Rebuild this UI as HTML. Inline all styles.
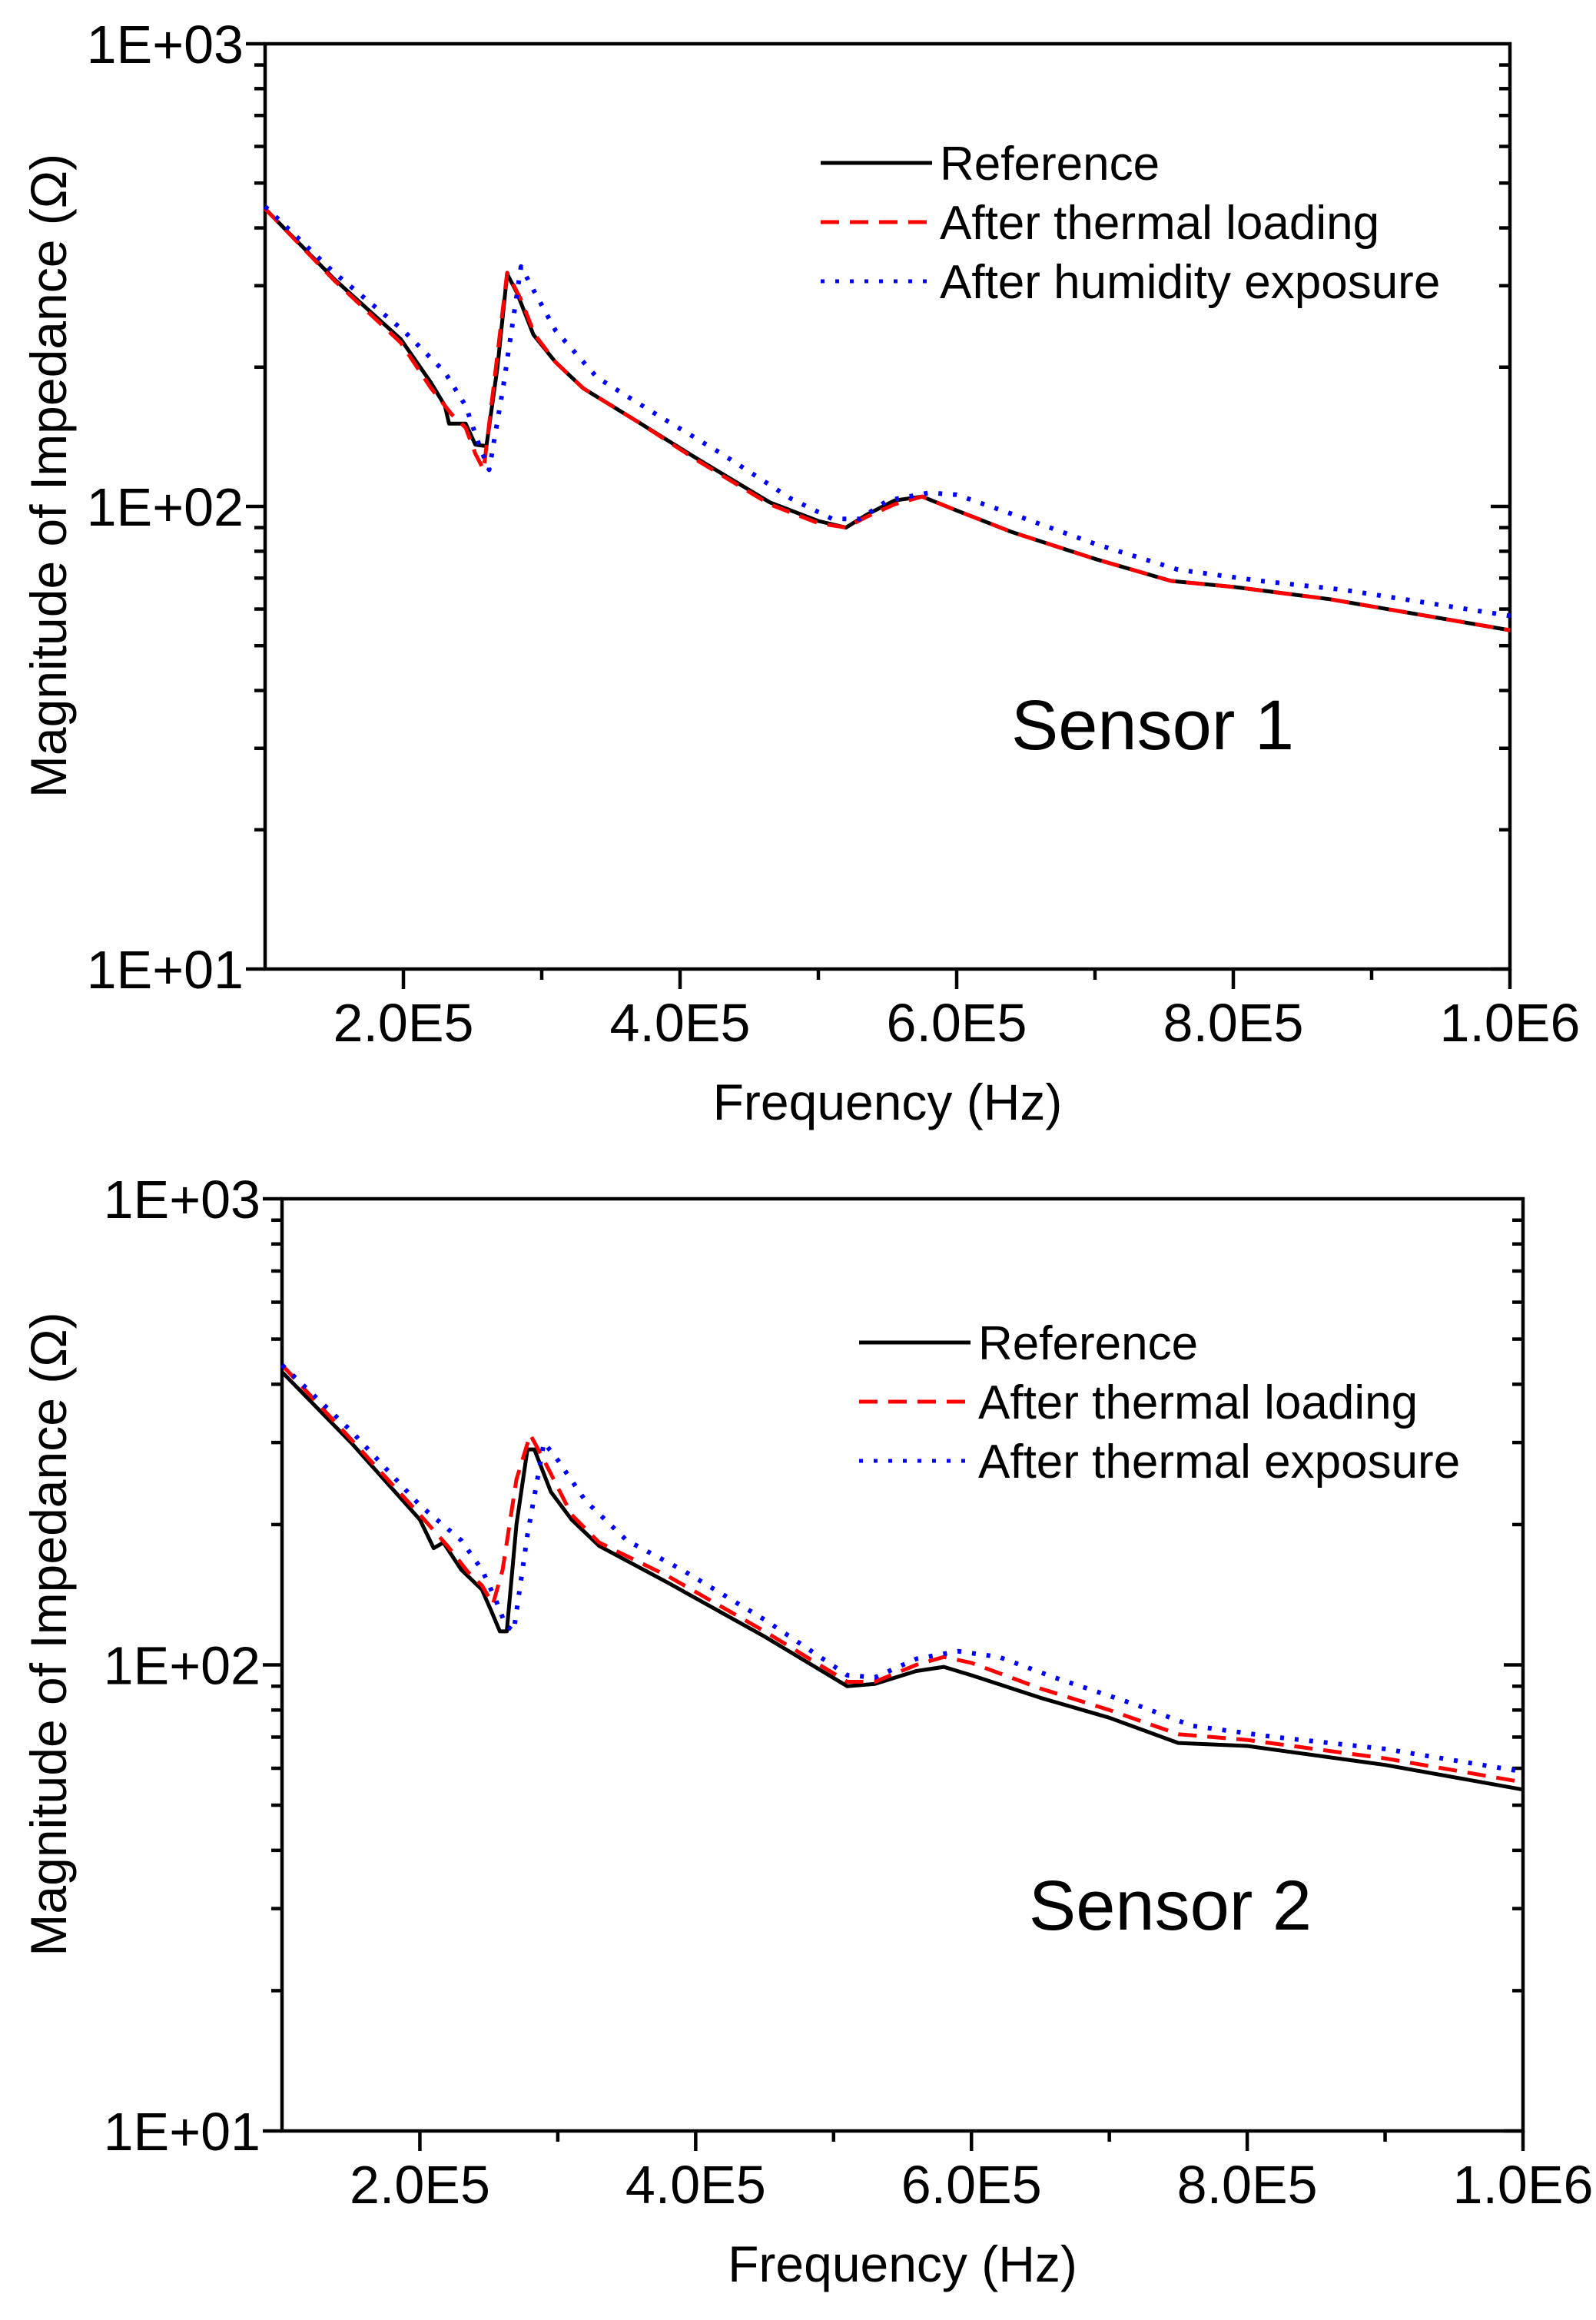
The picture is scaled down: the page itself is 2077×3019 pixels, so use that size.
<!DOCTYPE html>
<html><head><meta charset="utf-8"><style>
html,body{margin:0;padding:0;background:#fff;}
svg{display:block;}
text{font-family:"Liberation Sans",sans-serif;fill:#000;}
</style></head><body>
<svg id="s" width="2077" height="3019" viewBox="0 0 2077 3019" xmlns="http://www.w3.org/2000/svg"></svg>
<script>
var S=document.getElementById('s');var out='';
function plot(o){
 var L=o.L,R=o.R,T=o.T,B=o.B,dec=(B-T)/2;
 function X(f){return L+(f-1)/9*(R-L);}
 function Y(z){return B-(Math.log10(z)-1)*dec;}
 out+='<rect x="'+L+'" y="'+T+'" width="'+(R-L)+'" height="'+(B-T)+'" fill="none" stroke="#000" stroke-width="4.5"/>';
 out+='<line x1="'+(L-25)+'" y1="'+T+'" x2="'+L+'" y2="'+T+'" stroke="#000" stroke-width="4.5"/>';
 for(var d=1;d<3;d++){for(var m=1;m<10;m++){var y=Y(m*Math.pow(10,d));var len=m==1?25:14;
  out+='<line x1="'+(L-len)+'" y1="'+y+'" x2="'+L+'" y2="'+y+'" stroke="#000" stroke-width="4.5"/>';
  out+='<line x1="'+(R-len)+'" y1="'+y+'" x2="'+R+'" y2="'+y+'" stroke="#000" stroke-width="4.5"/>';}}
 var labs=['1E+01','1E+02','1E+03'];
 for(var i=0;i<3;i++){out+='<text x="'+(L-28)+'" y="'+(Y(Math.pow(10,i+1))+25)+'" font-size="70" text-anchor="end">'+labs[i]+'</text>';}
 for(var f=2;f<=10;f++){var x=X(f);var len=(f%2==0)?26:14;
  out+='<line x1="'+x+'" y1="'+B+'" x2="'+x+'" y2="'+(B+len)+'" stroke="#000" stroke-width="4.5"/>';
  if(f%2==0){out+='<text x="'+x+'" y="'+(B+94)+'" font-size="70" text-anchor="middle">'+(f==10?'1.0E6':(f+'.0E5'))+'</text>';}}
 out+='<text x="'+((L+R)/2)+'" y="'+(B+196)+'" font-size="66" text-anchor="middle">Frequency (Hz)</text>';
 out+='<text transform="translate(86,'+((T+B)/2-40)+') rotate(-90)" font-size="66" text-anchor="middle">Magnitude of Impedance (Ω)</text>';
 var st=[{c:'#000',d:''},{c:'#ff0000',d:'24 14'},{c:'#0000ff',d:'5 14'}];
 for(var k=0;k<3;k++){var p=o.data[k];var pts=[];
  for(var j=0;j<p.length;j++){pts.push(X(p[j][0]).toFixed(1)+','+Y(p[j][1]).toFixed(1));}
  out+='<polyline points="'+pts.join(' ')+'" fill="none" stroke="'+st[k].c+'" stroke-width="'+(k==2?6:5)+'" stroke-linejoin="round" '+(st[k].d?'stroke-dasharray="'+st[k].d+'"':'')+'/>';
  var ly=o.leg[1]+k*77;
  out+='<line x1="'+o.leg[0]+'" y1="'+ly+'" x2="'+(o.leg[0]+145)+'" y2="'+ly+'" stroke="'+st[k].c+'" stroke-width="5" '+(st[k].d?'stroke-dasharray="'+st[k].d+'"':'')+'/>';
  out+='<text x="'+(o.leg[0]+155)+'" y="'+(ly+22)+'" font-size="62">'+o.names[k]+'</text>';}
 out+='<text x="'+o.sx+'" y="'+o.sy+'" font-size="92" text-anchor="middle">'+o.sensor+'</text>';
}
var r1=[[1,440],[1.5,310],[1.98,230],[2.2,185],[2.3,165],[2.33,151],[2.45,151],[2.52,136],[2.6,135],[2.68,200],[2.75,318],[2.82,290],[2.94,235],[3.1,205],[3.3,180],[3.7,152],[4.12,127],[4.65,102],[5.0,93],[5.2,90],[5.35,96],[5.55,103],[5.75,105],[6.0,98],[6.4,88],[7.0,77],[7.55,69],[8.0,67],[8.7,63],[10,54]];
var d1=[[1,440],[1.5,308],[1.98,226],[2.2,180],[2.35,158],[2.45,148],[2.52,130],[2.58,120],[2.66,190],[2.75,320],[2.85,280],[2.95,235],[3.1,205],[3.3,180],[3.7,152],[4.12,126],[4.65,101],[5.0,92],[5.2,90],[5.35,95],[5.55,101],[5.75,105],[6.0,98],[6.4,88],[7.0,77],[7.55,69],[8.0,67],[8.7,63],[10,54]];
var b1=[[1,445],[1.5,320],[2.0,240],[2.3,195],[2.45,165],[2.55,135],[2.62,120],[2.72,180],[2.85,330],[2.95,290],[3.1,240],[3.4,190],[3.8,160],[4.3,130],[4.8,104],[5.1,94],[5.3,94],[5.5,103],[5.8,107],[6.0,106],[6.5,94],[7.0,83],[7.6,73],[8.2,69],[8.8,66],[10,58]];
var r2=[[1,425],[1.5,300],[2.0,205],[2.1,178],[2.17,183],[2.3,160],[2.45,145],[2.52,130],[2.58,118],[2.63,118],[2.7,200],[2.78,290],[2.83,290],[2.95,235],[3.1,205],[3.3,180],[3.8,150],[4.5,115],[5.1,90],[5.3,91],[5.6,97],[5.8,99],[6.0,95],[6.5,85],[7.0,77],[7.5,68],[8.0,67],[9.0,61],[10,54]];
var d2=[[1,440],[1.5,305],[2.0,210],[2.2,180],[2.35,158],[2.45,148],[2.53,135],[2.6,160],[2.7,250],[2.8,312],[2.9,275],[3.1,210],[3.3,183],[3.8,155],[4.5,118],[5.1,92],[5.3,92],[5.6,100],[5.8,104],[6.0,101],[6.5,89],[7.0,80],[7.5,71],[8.0,69],[9.0,63],[10,56]];
var b2=[[1,440],[1.5,318],[2.0,220],[2.3,185],[2.45,160],[2.55,138],[2.62,122],[2.68,118],[2.78,190],[2.9,300],[3.0,275],[3.2,225],[3.5,185],[3.9,160],[4.5,125],[5.1,95],[5.3,94],[5.6,103],[5.9,107],[6.2,104],[6.6,94],[7.2,82],[7.6,74],[8.2,70],[9.0,66],[10,59]];
plot({L:345,R:1965,T:57,B:1261,data:[r1,d1,b1],leg:[1068,212],names:['Reference','After thermal loading','After humidity exposure'],sensor:'Sensor 1',sx:1500,sy:975});
plot({L:367,R:1982,T:1560,B:2773,data:[r2,d2,b2],leg:[1118,1747],names:['Reference','After thermal loading','After thermal exposure'],sensor:'Sensor 2',sx:1523,sy:2511});
S.innerHTML=out;
</script>
</body></html>
